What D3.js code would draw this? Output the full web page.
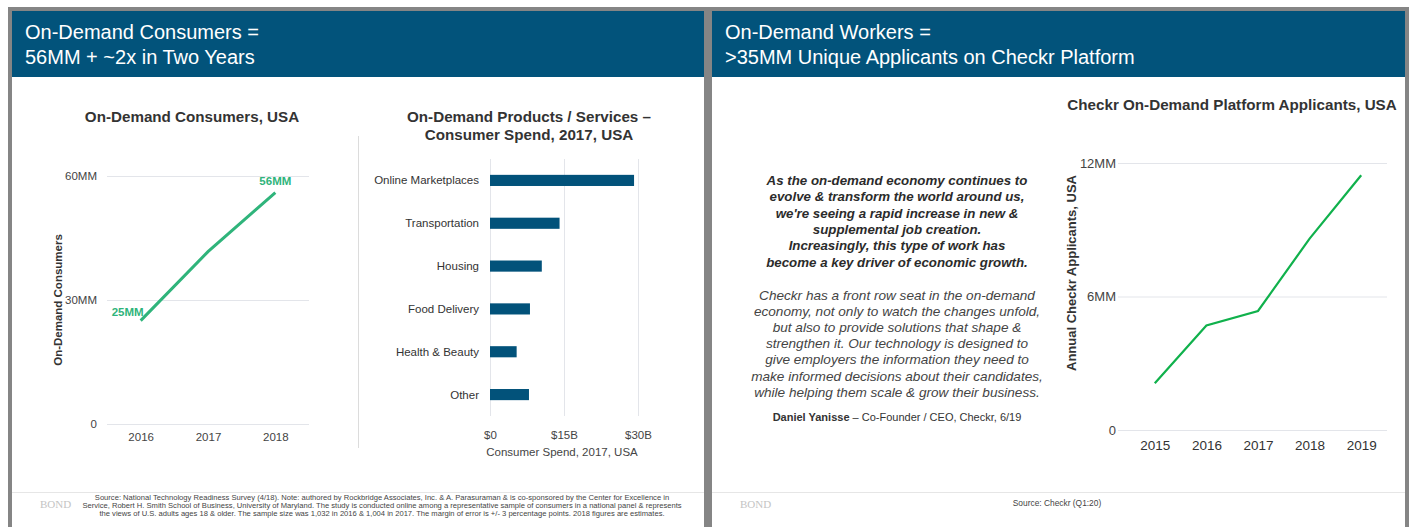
<!DOCTYPE html>
<html>
<head>
<meta charset="utf-8">
<script src="https://cdn.jsdelivr.net/npm/d3@7"></script>
<style>
  body { margin: 0; background: #fff; }
  svg text { font-family: "Liberation Sans", Arial, sans-serif; }
</style>
</head>
<body>
<div id="chart"></div>
<script>
// ---- data ----
const consumerYears = ["2016", "2017", "2018"];
const consumerValues = [25, 41.7, 56];           // MM
const consumerTicks = [0, 30, 60];

const spendCategories = ["Online Marketplaces", "Transportation", "Housing", "Food Delivery", "Health & Beauty", "Other"];
const spendValues = [29.2, 14.1, 10.5, 8.1, 5.4, 7.9]; // $B
const spendTicks = [0, 15, 30];

const applicantYears = ["2015", "2016", "2017", "2018", "2019"];
const applicantValues = [2.1, 4.7, 5.35, 8.6, 11.45]; // MM
const applicantTicks = [0, 6, 12];

const quoteBold = [
    "As the on-demand economy continues to",
    "evolve & transform the world around us,",
    "we're seeing a rapid increase in new &",
    "supplemental job creation.",
    "Increasingly, this type of work has",
    "become a key driver of economic growth."
];
const quoteBody = [
    "Checkr has a front row seat in the on-demand",
    "economy, not only to watch the changes unfold,",
    "but also to provide solutions that shape &",
    "strengthen it. Our technology is designed to",
    "give employers the information they need to",
    "make informed decisions about their candidates,",
    "while helping them scale & grow their business."
];
const leftSource = [
    "Source: National Technology Readiness Survey (4/18). Note: authored by Rockbridge Associates, Inc. & A. Parasuraman & is co-sponsored by the Center for Excellence in",
    "Service, Robert H. Smith School of Business, University of Maryland.  The study is conducted online among a representative sample of consumers in a national panel & represents",
    "the views of U.S. adults ages 18 & older.  The sample size was 1,032 in 2016 & 1,004 in 2017.  The margin of error is +/- 3 percentage points. 2018 figures are estimates."
];

const W = 1411, H = 527;
const HEADER = "#02537b";
const GRID = "#e3e5ea";
const TXT = "#333";

const svg = d3.select("#chart").append("svg")
    .attr("width", W)
    .attr("height", H);

// ---- panels ----
function panel(x0, x1, lines) {
    svg.append("rect")
        .attr("x", x0).attr("y", 9)
        .attr("width", x1 - x0).attr("height", H)
        .attr("fill", "#fff")
        .attr("stroke", "#858585")
        .attr("stroke-width", 4);
    svg.append("rect")
        .attr("x", x0 + 2).attr("y", 11)
        .attr("width", x1 - x0 - 4).attr("height", 66)
        .attr("fill", HEADER);
    lines.forEach((t, i) => {
        svg.append("text")
            .attr("x", x0 + 15).attr("y", 39 + i * 25)
            .attr("fill", "#fff")
            .style("font-size", "20px")
            .text(t);
    });
    // footer separator
    svg.append("line")
        .attr("x1", x0 + 2).attr("x2", x1 - 2)
        .attr("y1", 492.5).attr("y2", 492.5)
        .attr("stroke", "#e6e6e6");
    svg.append("text")
        .attr("x", x0 + 30).attr("y", 508)
        .attr("fill", "#c4c4c4")
        .style("font-family", "'Liberation Serif', serif")
        .style("font-size", "11px")
        .text("BOND");
}
panel(10, 706, ["On-Demand Consumers =", "56MM + ~2x in Two Years"]);
panel(710, 1407, ["On-Demand Workers =", ">35MM Unique Applicants on Checkr Platform"]);

// ---- chart 1: consumers line ----
{
    const x = d3.scalePoint().domain(consumerYears).range([107, 309]).padding(0.5);
    const y = d3.scaleLinear().domain([0, 60]).range([424, 176]);
    const g = svg.append("g");

    g.append("text")
        .attr("x", 192).attr("y", 122)
        .attr("text-anchor", "middle")
        .attr("fill", TXT)
        .style("font-size", "15.2px").style("font-weight", "bold")
        .text("On-Demand Consumers, USA");

    const yAxis = g.append("g")
        .attr("transform", "translate(107,0)")
        .call(d3.axisLeft(y).tickValues(consumerTicks).tickSize(-202).tickFormat(d => d === 0 ? "0" : d + "MM"));
    yAxis.select(".domain").remove();
    yAxis.selectAll("line").attr("stroke", GRID);
    yAxis.selectAll("text").attr("x", -10).attr("fill", "#444").style("font-size", "11.5px");

    const xAxis = g.append("g")
        .attr("transform", "translate(0,424)")
        .call(d3.axisBottom(x).tickSize(0));
    xAxis.select(".domain").remove();
    xAxis.selectAll("text").attr("dy", "1.2em").attr("fill", "#444").style("font-size", "11.5px");

    g.append("text")
        .attr("transform", "translate(62,300) rotate(-90)")
        .attr("text-anchor", "middle")
        .attr("fill", TXT)
        .style("font-size", "11.5px").style("font-weight", "bold")
        .text("On-Demand Consumers");

    g.append("path")
        .datum(consumerValues)
        .attr("fill", "none")
        .attr("stroke", "#2fb47b")
        .attr("stroke-width", 3)
        .attr("d", d3.line().x((d, i) => x(consumerYears[i])).y(d => y(d)));

    const labelIdx = [0, consumerValues.length - 1];
    g.selectAll(".dl").data(labelIdx).enter().append("text")
        .attr("x", i => x(consumerYears[i]) + (i === 0 ? -13 : 0))
        .attr("y", i => y(consumerValues[i]) + (i === 0 ? -5 : -8))
        .attr("text-anchor", "middle")
        .attr("fill", "#2fb47b")
        .style("font-size", "11.5px").style("font-weight", "bold")
        .text(i => Math.round(consumerValues[i]) + "MM");
}

// divider
svg.append("line")
    .attr("x1", 358.5).attr("x2", 358.5)
    .attr("y1", 136).attr("y2", 448)
    .attr("stroke", "#dcdcdc");

// ---- chart 2: spend bars ----
{
    const x = d3.scaleLinear().domain([0, 30]).range([490, 638]);
    const y = d3.scaleBand().domain(spendCategories).range([159, 416]).paddingInner(0.74).paddingOuter(0.37);
    const g = svg.append("g");

    ["On-Demand Products / Services \u2013", "Consumer Spend, 2017, USA"].forEach((t, i) => {
        g.append("text")
            .attr("x", 529).attr("y", 122 + i * 18)
            .attr("text-anchor", "middle")
            .attr("fill", TXT)
            .style("font-size", "15.2px").style("font-weight", "bold")
            .text(t);
    });

    const xAxis = g.append("g")
        .attr("transform", "translate(0,416)")
        .call(d3.axisBottom(x).tickValues(spendTicks).tickSize(-257).tickFormat(d => d === 0 ? "$0" : "$" + d + "B"));
    xAxis.select(".domain").remove();
    xAxis.selectAll("line").attr("stroke", GRID);
    xAxis.selectAll("text").attr("y", 15).attr("fill", "#444").style("font-size", "11.5px");

    g.append("text")
        .attr("x", 562).attr("y", 456)
        .attr("text-anchor", "middle")
        .attr("fill", "#444")
        .style("font-size", "11.5px")
        .text("Consumer Spend, 2017, USA");

    g.selectAll(".bar").data(spendValues).enter().append("rect")
        .attr("x", x(0))
        .attr("y", (d, i) => y(spendCategories[i]))
        .attr("width", d => x(d) - x(0))
        .attr("height", y.bandwidth())
        .attr("fill", "#02527a");

    g.selectAll(".cat").data(spendCategories).enter().append("text")
        .attr("x", 479)
        .attr("y", d => y(d) + y.bandwidth() / 2)
        .attr("dy", "0.35em")
        .attr("text-anchor", "end")
        .attr("fill", "#333")
        .style("font-size", "11.5px")
        .text(d => d);
}

// ---- quote ----
{
    const cx = 897;
    quoteBold.forEach((t, i) => {
        svg.append("text")
            .attr("x", cx).attr("y", 185 + i * 16.3)
            .attr("text-anchor", "middle")
            .attr("fill", "#2b2b2b")
            .style("font-size", "13.3px").style("font-weight", "bold").style("font-style", "italic")
            .text(t);
    });
    quoteBody.forEach((t, i) => {
        svg.append("text")
            .attr("x", cx).attr("y", 300 + i * 16.1)
            .attr("text-anchor", "middle")
            .attr("fill", "#444")
            .style("font-size", "13.6px").style("font-style", "italic")
            .text(t);
    });
    const a = svg.append("text")
        .attr("x", cx).attr("y", 421)
        .attr("text-anchor", "middle")
        .attr("fill", "#333")
        .style("font-size", "11px");
    a.append("tspan").style("font-weight", "bold").text("Daniel Yanisse");
    a.append("tspan").text(" \u2013 Co-Founder / CEO, Checkr, 6/19");
}

// ---- chart 3: applicants line ----
{
    const x = d3.scalePoint().domain(applicantYears).range([1129, 1387]).padding(0.5);
    const y = d3.scaleLinear().domain([0, 12]).range([430, 163]);
    const g = svg.append("g");

    g.append("text")
        .attr("x", 1232).attr("y", 110)
        .attr("text-anchor", "middle")
        .attr("fill", TXT)
        .style("font-size", "15.2px").style("font-weight", "bold")
        .text("Checkr On-Demand Platform Applicants, USA");

    const yAxis = g.append("g")
        .attr("transform", "translate(1118,0)")
        .call(d3.axisLeft(y).tickValues(applicantTicks).tickSize(-269).tickFormat(d => d === 0 ? "0" : d + "MM"));
    yAxis.select(".domain").remove();
    yAxis.selectAll("line").attr("stroke", GRID);
    yAxis.selectAll("text").attr("x", -2).attr("fill", "#444").style("font-size", "13px");

    const xAxis = g.append("g")
        .attr("transform", "translate(0,430)")
        .call(d3.axisBottom(x).tickSize(0));
    xAxis.select(".domain").remove();
    xAxis.selectAll("text").attr("dy", "1.25em").attr("fill", "#333").style("font-size", "13.5px");

    g.append("text")
        .attr("transform", "translate(1076,273) rotate(-90)")
        .attr("text-anchor", "middle")
        .attr("fill", TXT)
        .style("font-size", "13px").style("font-weight", "bold")
        .text("Annual Checkr Applicants, USA");

    g.append("path")
        .datum(applicantValues)
        .attr("fill", "none")
        .attr("stroke", "#10b14c")
        .attr("stroke-width", 2.2)
        .attr("d", d3.line().x((d, i) => x(applicantYears[i])).y(d => y(d)));
}

// ---- sources ----
leftSource.forEach((t, i) => {
    svg.append("text")
        .attr("x", 382).attr("y", 500 + i * 8)
        .attr("text-anchor", "middle")
        .attr("fill", "#444")
        .style("font-size", "7.6px")
        .text(t);
});
svg.append("text")
    .attr("x", 1057).attr("y", 506)
    .attr("text-anchor", "middle")
    .attr("fill", "#444")
    .style("font-size", "8.4px")
    .text("Source: Checkr (Q1:20)");
</script>
</body>
</html>
